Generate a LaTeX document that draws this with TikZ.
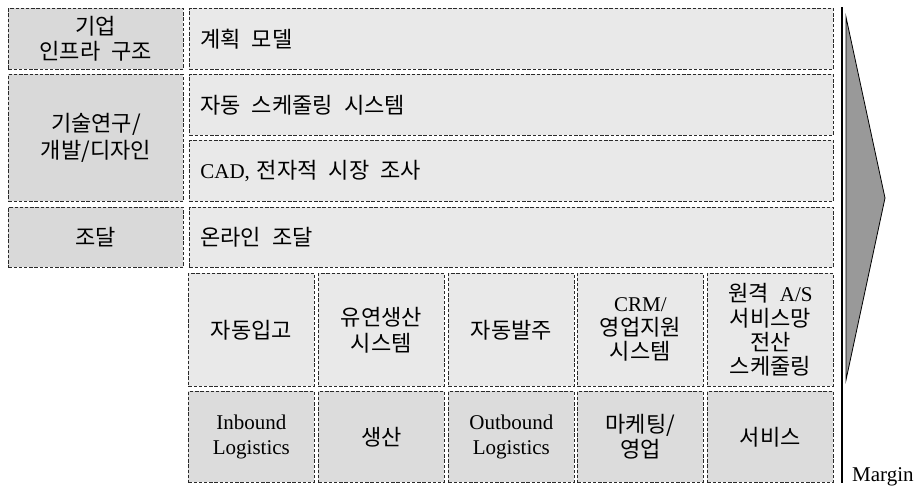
\documentclass[tikz,border=0pt]{standalone}
\usepackage{fontspec}
\setmainfont{Liberation Serif}
\newfontfamily\kr[Scale=1.05]{Noto Sans CJK KR}
\newcommand\kgap{\hspace{0.5em}}
\definecolor{boxdark}{HTML}{D9D9D9}
\definecolor{boxlight}{HTML}{E9E9E9}
\definecolor{rowdark}{HTML}{DCDCDC}
\definecolor{arrowgray}{HTML}{999999}
\definecolor{dashcol}{HTML}{2A2A2A}
\tikzset{
  cell/.style={draw=dashcol, dash pattern=on 3.4pt off 1.8pt, line width=0.8pt,
    anchor=north west, inner sep=0pt, align=center, text=black,
    font=\fontsize{21}{23}\selectfont},
  leftcell/.style={cell, fill=boxdark, minimum width=175pt},
  rightcell/.style={cell, fill=boxlight, text width=622pt, inner xsep=11pt, align=left, minimum height=61pt},
  topcell/.style={cell, fill=boxlight, minimum width=126pt, minimum height=113pt},
  botcell/.style={cell, fill=rowdark, minimum width=126pt, minimum height=91pt},
}
\begin{document}
\begin{tikzpicture}[x=1pt,y=-1pt]
\useasboundingbox (0,0) rectangle (916,491);
% left column
\node[leftcell, minimum height=61pt, font=\fontsize{21}{25}\selectfont] (infra) at (8,8) {\kr 기업\\\kr 인프라\kgap 구조};
\node[leftcell, minimum height=127pt, font=\fontsize{21}{26.7}\selectfont] (tech) at (8,74) {\kr 기술연구/\\\kr 개발/디자인};
\node[leftcell, minimum height=60pt] (proc) at (8,207) {\kr 조달};
% right rows
\node[rightcell] (plan) at (189,8) {\kr 계획\kgap 모델};
\node[rightcell] (sched) at (189,74) {\kr 자동\kgap 스케줄링\kgap 시스템};
\node[rightcell] (cad) at (189,140) {CAD, {\kr 전자적\kgap 시장\kgap 조사}};
\node[rightcell, minimum height=60pt] (online) at (189,207) {\kr 온라인\kgap 조달};
% grid top row
\node[topcell] (t1) at (188,273) {\kr 자동입고};
\node[topcell, font=\fontsize{21}{26}\selectfont] (t2) at (318,273) {\kr 유연생산\\\kr 시스템};
\node[topcell] (t3) at (448,273) {\kr 자동발주};
\node[topcell, font=\fontsize{21}{24}\selectfont] (t4) at (577,273) {CRM/\\\kr 영업지원\\\kr 시스템};
\node[topcell, font=\fontsize{21}{24.2}\selectfont] (t5) at (707,273) {{\kr 원격\kgap}A/S\\\kr 서비스망\\\kr 전산\\\kr 스케줄링};
% grid bottom row
\node[botcell, font=\fontsize{21}{25}\selectfont] (b1) at (188,391) {Inbound\\Logistics};
\node[botcell] (b2) at (318,391) {\kr 생산};
\node[botcell, font=\fontsize{21}{25}\selectfont] (b3) at (448,391) {Outbound\\Logistics};
\node[botcell, font=\fontsize{21}{24.5}\selectfont] (b4) at (577,391) {\kr 마케팅/\\\kr 영업};
\node[botcell] (b5) at (707,391) {\kr 서비스};
% margin line and arrow
\coordinate (mtop) at (842,7);
\coordinate (mbot) at (842,483);
\draw[line width=2.5pt, black] (mtop) -- (mbot);
\coordinate (a1) at (846,17);
\coordinate (a2) at (885,198);
\coordinate (a3) at (846,380);
\draw[fill=arrowgray, draw=black, line width=0.8pt, line join=miter] (a1) -- (a2) -- (a3) -- cycle;
\node[anchor=base west, inner sep=0pt, font=\fontsize{21}{23}\selectfont] (margin) at (852,481) {Margin};
\end{tikzpicture}
\end{document}
